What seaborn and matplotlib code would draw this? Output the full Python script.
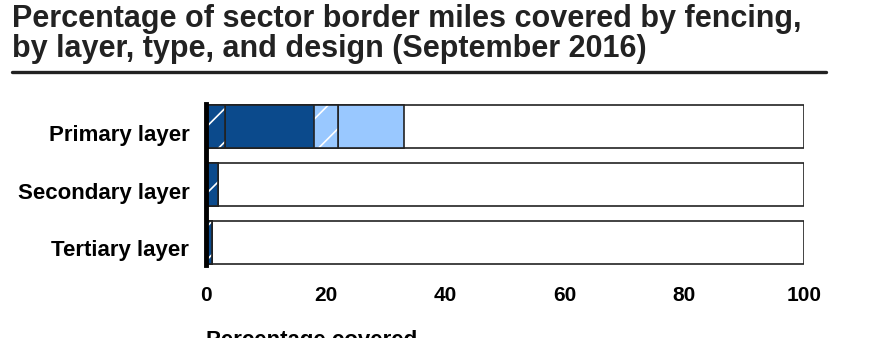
import matplotlib
matplotlib.use("Agg")
import matplotlib.pyplot as plt
import matplotlib.transforms as mtransforms
import seaborn as sns
import pandas as pd
import numpy as np

sns.set_theme(style="white")
plt.rcParams["font.family"] = ["Liberation Sans", "DejaVu Sans"]
plt.rcParams["font.weight"] = "bold"
plt.rcParams["hatch.linewidth"] = 1.2

layers = ["Primary layer", "Secondary layer", "Tertiary layer"]
# segment widths (percent of sector border miles)
dark_hatched = [3.2, 2.0, 1.0]
dark_solid = [14.9, 0.0, 0.0]
light_hatched = [4.0, 0.0, 0.0]
light_solid = [11.0, 0.0, 0.0]
uncovered = [66.9, 98.0, 99.0]

dark = "#0b4a8c"
light = "#99c8ff"
edge = "#222222"
BAR_W = 0.74

segments = [
    (dark_hatched, dark, True),
    (dark_solid, dark, False),
    (light_hatched, light, True),
    (light_solid, light, False),
    (uncovered, "white", False),
]

widths = np.array([s[0] for s in segments])
cum = np.cumsum(widths, axis=0)

fig = plt.figure(figsize=(8.74, 3.38), dpi=100)
W, H = 874, 338
ax = fig.add_axes([206 / W, 1 - 265 / H, (804 - 206) / W, (265 - 104) / H])

# cumulative totals drawn from the outermost segment inward
for i in range(len(segments) - 1, -1, -1):
    vals, color, hatched = segments[i]
    df = pd.DataFrame({"layer": layers, "value": cum[i]})
    sns.barplot(data=df, x="value", y="layer", orient="h", color=color,
                saturation=1, width=BAR_W, ax=ax, edgecolor=edge,
                linewidth=1.2)
    if hatched:
        n2 = len(ax.patches)
        sns.barplot(data=df, x="value", y="layer", orient="h", color=color,
                    saturation=1, width=BAR_W, ax=ax, edgecolor="white",
                    linewidth=0)
        for p in ax.patches[n2:]:
            p.set_hatch("/")
            p.set_edgecolor("white")
        sns.barplot(data=df, x="value", y="layer", orient="h", fill=False,
                    width=BAR_W, ax=ax, edgecolor=edge, linewidth=1.2)

ax.set_xlim(0, 100)
ax.set_ylim(2.39, -0.39)
ax.set_xticks([0, 20, 40, 60, 80, 100])
ax.tick_params(axis="x", labelsize=15, pad=15, length=0)
ax.tick_params(axis="y", labelsize=16, pad=12, length=0)
for lab in ax.get_xticklabels():
    lab.set_fontweight("bold")
    lab.set_color("black")
offset = mtransforms.ScaledTranslation(0, -6 / 100, fig.dpi_scale_trans)
for lab in ax.get_yticklabels():
    lab.set_fontweight("bold")
    lab.set_color("black")
    lab.set_transform(lab.get_transform() + offset)
ax.set_xlabel("")
ax.set_ylabel("")
for s in ["top", "right", "bottom"]:
    ax.spines[s].set_visible(False)
ax.spines["left"].set_linewidth(3.5)
ax.spines["left"].set_color("black")
ax.spines["left"].set_zorder(10)

fig.text(12 / W, 1 - 4 / H,
         "Percentage of sector border miles covered by fencing,\nby layer, type, and design (September 2016)",
         ha="left", va="top", fontsize=22, fontweight="bold", color="#222222",
         linespacing=0.98)
fig.add_artist(plt.Line2D([12 / W, 826 / W], [1 - 72 / H, 1 - 72 / H],
                          color="#222222", linewidth=2.4))
fig.text(206 / W, 1 - 330 / H, "Percentage covered", ha="left", va="top",
         fontsize=16, fontweight="bold", color="black")

fig.savefig("out.png", dpi=100)
